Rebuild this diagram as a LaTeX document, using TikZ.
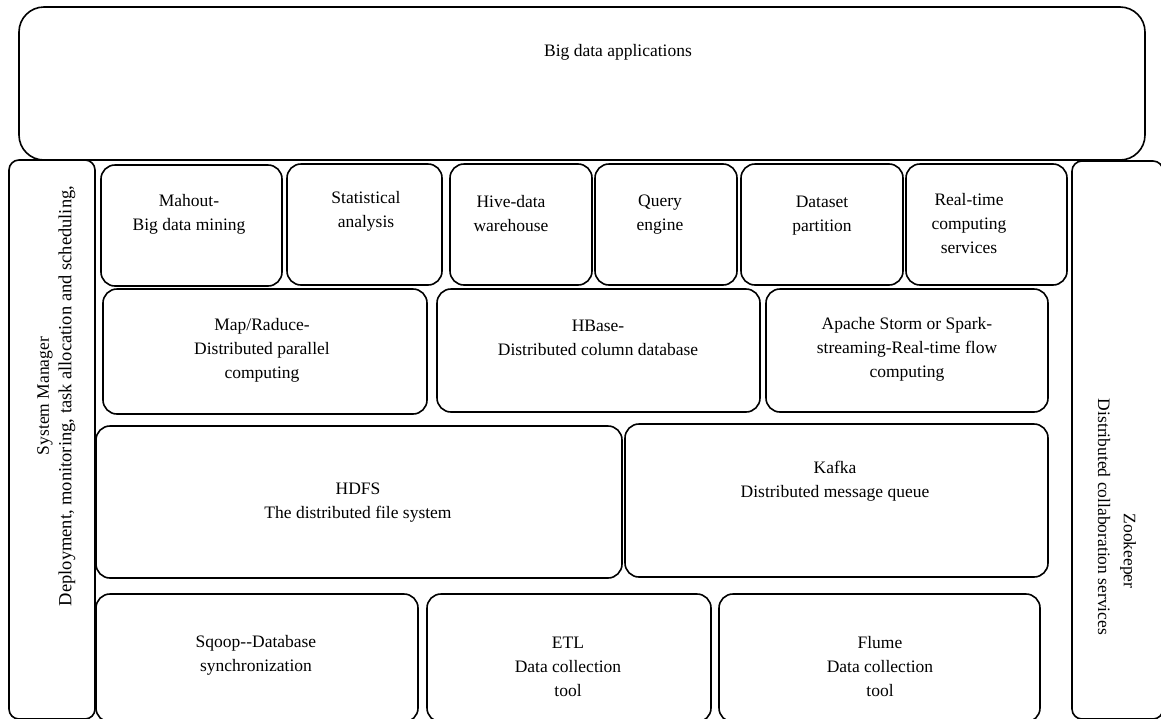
\documentclass[tikz,border=0pt]{standalone}
\usepackage{fontspec}
\setmainfont{Liberation Serif}
\begin{document}
\begin{tikzpicture}[x=1pt,y=-1pt,
  box/.style={draw, line width=1.6pt, rounded corners=14pt, inner sep=0pt, outer sep=0pt},
  panel/.style={draw, line width=1.6pt, rounded corners=10pt, inner sep=0pt, outer sep=0pt},
  txt/.style={align=center, inner sep=0pt, font=\fontsize{17.5}{24}\selectfont}]
\useasboundingbox (0,0) rectangle (1161,718);
% top
\node[box, rounded corners=25pt, minimum width=1126pt, minimum height=153pt] (top) at (582,83.5) {};
\node[txt] (topt) at (618,52) {Big data applications};
% side panels
\node[panel, minimum width=86pt, minimum height=559pt] (left) at (52,439.5) {};
\node[txt, rotate=90] (leftt1) at (45,396) {System Manager};
\node[txt, rotate=90, font=\fontsize{18.5}{24}\selectfont] (leftt2) at (67,396) {Deployment, monitoring, task allocation and scheduling,};
\node[panel, minimum width=91pt, minimum height=558pt] (right) at (1117.5,440) {};
\node[txt, rotate=-90] (rightt1) at (1128,551) {Zookeeper};
\node[txt, rotate=-90] (rightt2) at (1104,517) {Distributed collaboration services};
% row 1
\node[box, minimum width=181pt, minimum height=121pt] (mahout) at (191.5,225.5) {};
\node[txt] (mahoutt) at (189,214) {Mahout-\\Big data mining};
\node[box, minimum width=155pt, minimum height=121pt] (stat) at (364.5,224.5) {};
\node[txt] (statt) at (366,211) {Statistical\\analysis};
\node[box, minimum width=142pt, minimum height=121pt] (hive) at (521,224.5) {};
\node[txt] (hivet) at (511,213.5) {Hive-data\\warehouse};
\node[box, minimum width=142pt, minimum height=121pt] (query) at (666,224.5) {};
\node[txt] (queryt) at (660,215) {Query\\engine};
\node[box, minimum width=162pt, minimum height=121pt] (dataset) at (822,224.5) {};
\node[txt] (datasett) at (822,215.5) {Dataset\\partition};
\node[box, minimum width=161pt, minimum height=121pt] (rt) at (986.5,224.5) {};
\node[txt] (rtt) at (969,224) {Real-time\\computing\\services};
% row 2
\node[box, minimum width=324pt, minimum height=125pt] (map) at (265,351.5) {};
\node[txt] (mapt) at (262,350) {Map/Raduce-\\Distributed parallel\\computing};
\node[box, minimum width=323pt, minimum height=123pt] (hbase) at (598.5,350.5) {};
\node[txt] (hbaset) at (598,337.5) {HBase-\\Distributed column database};
\node[box, minimum width=282pt, minimum height=123pt] (storm) at (907,350.5) {};
\node[txt] (stormt) at (907,349.5) {Apache Storm or Spark-\\streaming-Real-time flow\\computing};
% row 3
\node[box, minimum width=526pt, minimum height=152pt] (hdfs) at (359,502) {};
\node[txt] (hdfst) at (358,503) {HDFS\\The distributed file system};
\node[box, minimum width=423pt, minimum height=153pt] (kafka) at (836.5,500.5) {};
\node[txt] (kafkat) at (835,481.5) {Kafka\\Distributed message queue};
% row 4
\node[box, minimum width=322pt, minimum height=128pt] (sqoop) at (257,658) {};
\node[txt] (sqoopt) at (256,655) {Sqoop-{}-Database\\synchronization};
\node[box, minimum width=284pt, minimum height=128pt] (etl) at (569,658) {};
\node[txt] (etlt) at (568,667) {ETL\\Data collection\\tool};
\node[box, minimum width=321pt, minimum height=128pt] (flume) at (879.5,658) {};
\node[txt] (flumet) at (880,667) {Flume\\Data collection\\tool};
\end{tikzpicture}
\end{document}
